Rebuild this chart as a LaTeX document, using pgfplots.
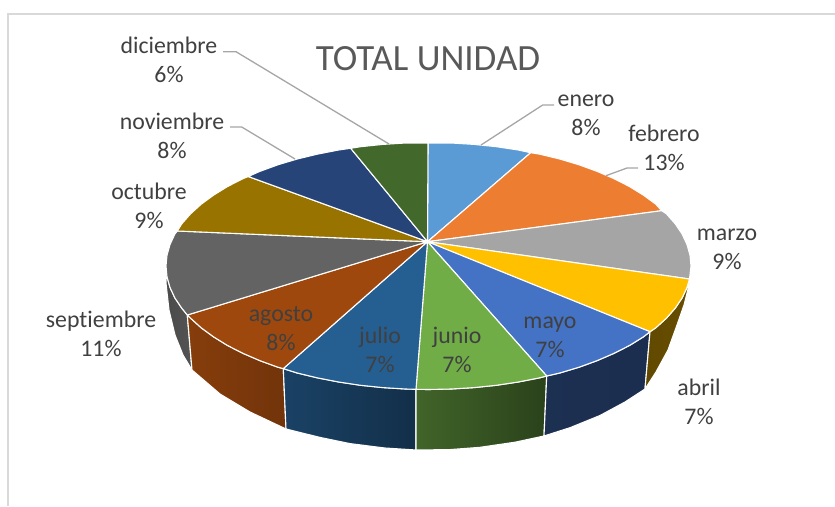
\documentclass[border=0pt]{standalone}
\usepackage{fontspec}
\setmainfont[Ligatures=NoCommon]{Carlito}
\usepackage{pgfplots}
\pgfplotsset{compat=1.18}
\definecolor{txt}{HTML}{404040}
\definecolor{ttl}{HTML}{595959}
\definecolor{leader}{HTML}{A6A6A6}
\definecolor{frame}{HTML}{D9D9D9}
\definecolor{cene}{HTML}{5B9BD5}
\definecolor{cfeb}{HTML}{ED7D31}
\definecolor{cmar}{HTML}{A5A5A5}
\definecolor{cabr}{HTML}{FFC000}
\definecolor{cmay}{HTML}{4472C4}
\definecolor{cjun}{HTML}{70AD47}
\definecolor{cjul}{HTML}{255E91}
\definecolor{cago}{HTML}{9E480E}
\definecolor{csep}{HTML}{636363}
\definecolor{coct}{HTML}{997300}
\definecolor{cnov}{HTML}{264478}
\definecolor{cdic}{HTML}{43682B}
\tikzset{
  lbl/.style={font=\fontsize{23.8}{29}\selectfont, text=txt, align=center, inner sep=0pt},
  wall/.style={draw=white, line width=1.1pt, line join=round},
  face/.style={draw=white, line width=1.1pt, line join=round},
  lead/.style={draw=leader, line width=1.3pt},
}
\begin{document}
\begin{tikzpicture}
\path[use as bounding box] (0,0) rectangle (835pt,506pt);
\begin{axis}[
  scale only axis, width=835pt, height=506pt,
  at={(0,0)}, anchor=south west,
  xmin=0, xmax=835, ymin=0, ymax=506, y dir=reverse,
  axis lines=none, clip=true,
]
% frame
\addplot[draw=frame, line width=1.3pt] coordinates {(8,506) (8,14) (835,14)};

% side walls
\addplot[wall, left color=black!25!csep, right color=black!15!csep] coordinates {(166,266) (167,276.8) (170,287.4) (174.9,298) (181.8,308.2) (187.3,315) (192,370) (183,355) (175,335) (169,310) (166,283)} -- cycle;
\addplot[wall, left color=black!15!cago, right color=black!28!cago] coordinates {(187.3,315) (190.6,318.2) (201.2,327.8) (213.5,336.8) (227.4,345.4) (242.9,353.3) (259.8,360.6) (277.9,367.2) (283.3,368.6) (286,429) (250,412) (220,394) (192,370)} -- cycle;
\addplot[wall, left color=black!30!cjul, right color=black!50!cjul] coordinates {(283.3,368.6) (297.25,373) (317.6,377.9) (338.7,382) (360.6,385.3) (382.9,387.6) (405.6,389) (416,389.3) (416,450) (385,448) (350,443.6) (320,437.4) (286,429)} -- cycle;
\addplot[wall, left color=black!42!cjun, right color=black!62!cjun] coordinates {(416,389.3) (428.5,389.5) (451.4,389) (474.1,387.6) (496.4,385.3) (518.3,382) (539.4,377.9) (546.7,376) (544,436) (515,442.2) (480,447.3) (450,449.6) (416,450)} -- cycle;
\addplot[wall, left color=black!58!cmay, right color=black!60!cmay] coordinates {(546.7,376) (559.75,373) (579.1,367.2) (597.2,360.6) (614.1,353.3) (629.6,345.4) (643.5,336.8) (650,331.7) (645,389) (625,402) (600,415.5) (570,427.7) (544,436)} -- cycle;
\addplot[wall, left color=black!62!cabr, right color=black!60!cabr] coordinates {(650,331.7) (655.8,327.8) (666.4,318.2) (675.2,308.2) (682.1,298) (687,287.4) (689.5,279) (689,285) (684,305) (677,325) (668,350) (656,372) (645,389)} -- cycle;

% top faces
\addplot[face, fill=cene] coordinates {(427.5,241.7) (428,143) (451.4,143) (474.1,144.4) (496.4,146.7) (518.3,150) (530.7,152.7)} -- cycle;
\addplot[face, fill=cfeb] coordinates {(427.5,241.7) (530.7,152.7) (539.4,154.1) (559.75,159) (579.1,164.8) (597.2,171.4) (614.1,178.7) (629.6,186.6) (643.5,195.2) (655.8,204.2) (661.7,210.7)} -- cycle;
\addplot[face, fill=cmar] coordinates {(427.5,241.7) (661.7,210.7) (666.4,213.8) (675.2,223.8) (682.1,234) (687,244.6) (690,255.2) (691,266) (689.5,279)} -- cycle;
\addplot[face, fill=cabr] coordinates {(427.5,241.7) (689.5,279) (687,287.4) (682.1,298) (675.2,308.2) (666.4,318.2) (655.8,327.8) (650,331.7)} -- cycle;
\addplot[face, fill=cmay] coordinates {(427.5,241.7) (650,331.7) (643.5,336.8) (629.6,345.4) (614.1,353.3) (597.2,360.6) (579.1,367.2) (559.75,373) (546.7,376)} -- cycle;
\addplot[face, fill=cjun] coordinates {(427.5,241.7) (546.7,376) (539.4,377.9) (518.3,382) (496.4,385.3) (474.1,387.6) (451.4,389) (428.5,389.5) (416,389.3)} -- cycle;
\addplot[face, fill=cjul] coordinates {(427.5,241.7) (416,389.3) (405.6,389) (382.9,387.6) (360.6,385.3) (338.7,382) (317.6,377.9) (297.25,373) (283.3,368.6)} -- cycle;
\addplot[face, fill=cago] coordinates {(427.5,241.7) (283.3,368.6) (277.9,367.2) (259.8,360.6) (242.9,353.3) (227.4,345.4) (213.5,336.8) (201.2,327.8) (190.6,318.2) (187.3,315)} -- cycle;
\addplot[face, fill=csep] coordinates {(427.5,241.7) (187.3,315) (181.8,308.2) (174.9,298) (170,287.4) (167,276.8) (166,266) (167,255.2) (170,244.6) (174.9,234) (177.3,231)} -- cycle;
\addplot[face, fill=coct] coordinates {(427.5,241.7) (177.3,231) (181.8,223.8) (190.6,213.8) (201.2,204.2) (213.5,195.2) (227.4,186.6) (242.9,178.7) (248.3,176.5)} -- cycle;
\addplot[face, fill=cnov] coordinates {(427.5,241.7) (248.3,176.5) (259.8,171.4) (277.9,164.8) (297.25,159) (317.6,154.1) (338.7,150) (350.7,148.3)} -- cycle;
\addplot[face, fill=cdic] coordinates {(427.5,241.7) (350.7,148.3) (360.6,146.7) (382.9,144.4) (405.6,143) (428,143)} -- cycle;

% leader lines
\addplot[lead] coordinates {(223,51.7) (236,51.7) (389,144)};
\addplot[lead] coordinates {(230,127) (241.7,127) (295,159)};
\addplot[lead] coordinates {(554,105) (542.7,105) (481,145)};
\addplot[lead] coordinates {(638,168) (627,168) (606,175.7)};

% labels
\node[font=\fontsize{37}{42}\selectfont, text=ttl, inner sep=0pt] at (axis cs:428,59) {TOTAL UNIDAD};
\node[lbl] at (axis cs:169,60) {diciembre\\6\%};
\node[lbl] at (axis cs:172,136) {noviembre\\8\%};
\node[lbl] at (axis cs:149,206) {octubre\\9\%};
\node[lbl] at (axis cs:101,334) {septiembre\\11\%};
\node[lbl] at (axis cs:281,329) {agosto\\8\%};
\node[lbl] at (axis cs:380,350) {julio\\7\%};
\node[lbl] at (axis cs:457,350) {junio\\7\%};
\node[lbl] at (axis cs:550,337) {mayo\\7\%};
\node[lbl] at (axis cs:699,402) {abril\\7\%};
\node[lbl] at (axis cs:727,249.5) {marzo\\9\%};
\node[lbl] at (axis cs:664,148) {febrero\\13\%};
\node[lbl] at (axis cs:586,115.5) {enero\\8\%};
\end{axis}
\end{tikzpicture}
\end{document}
